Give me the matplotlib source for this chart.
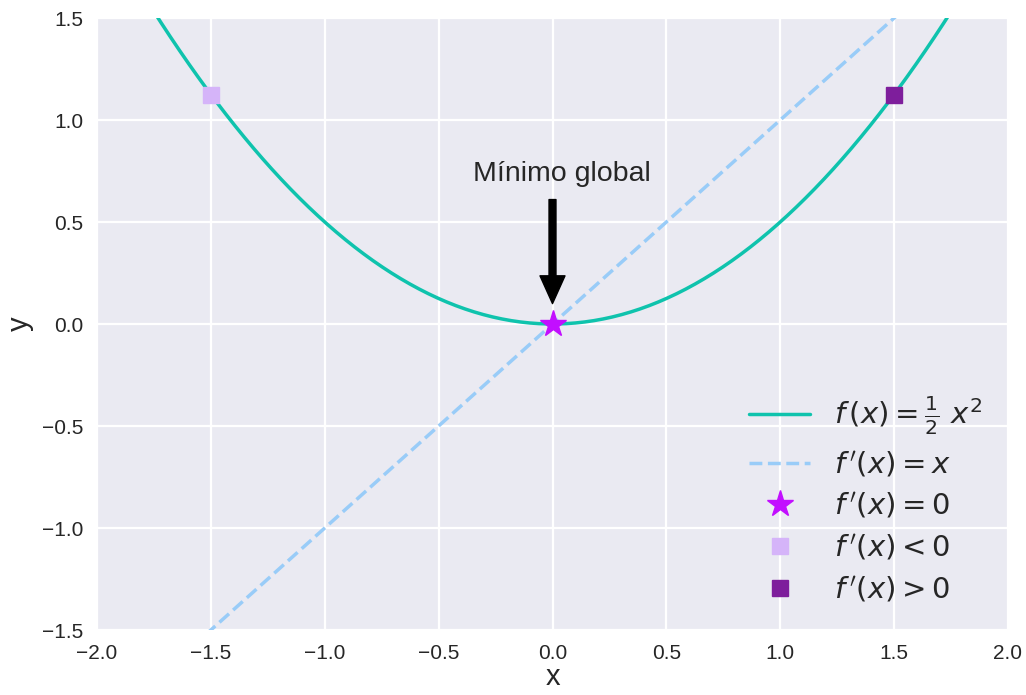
import numpy as np
import matplotlib
matplotlib.use("Agg")
import matplotlib.pyplot as plt

x_range = [-2.0, 2.0]
y_range = [-1.5, 1.5]
n_points = 100
point_zero = (0.0, 0.0)
point_neg = (-1.5, 1.125)
point_pos = (1.5, 1.125)
annot_text = "Mínimo global"
xticks = [-2.0, -1.5, -1.0, -0.5, 0.0, 0.5, 1.0, 1.5, 2.0]
yticks = [-1.5, -1.0, -0.5, 0.0, 0.5, 1.0, 1.5]

plt.style.use("seaborn-v0_8-darkgrid")
plt.rcParams["font.family"] = ["Liberation Sans", "DejaVu Sans"]
plt.rcParams["mathtext.fontset"] = "dejavusans"

fig = plt.figure(figsize=(10.26, 6.95), dpi=100)
ax = fig.add_axes([97/1026, 1-630/695, (1008-97)/1026, (630-18)/695])

x = np.linspace(x_range[0], x_range[1], n_points)
ax.plot(x, 0.5 * x**2, color="#0fc3ad", lw=2.5, label=r"$f\,(x) = \frac{1}{2}\ x^2$")
ax.plot(x, x, color="#99ccf8", lw=2.5, ls="--", label=r"$f\,'(x) = x$")
ax.plot(*point_zero, marker="*", color="#c20fff", ms=20, ls="none", label=r"$f\,'(x) = 0$", zorder=5)
ax.plot(*point_neg, marker="s", color="#d5b4f9", ms=12, ls="none", label=r"$f\,'(x) < 0$", zorder=5)
ax.plot(*point_pos, marker="s", color="#7e1e9c", ms=12, ls="none", label=r"$f\,'(x) > 0$", zorder=5)

ax.text(-0.35, 0.67, annot_text, ha="left", va="bottom", fontsize=20.5, color="#262626")
ax.annotate("", xy=(0, 0.1), xytext=(0, 0.61),
            arrowprops=dict(facecolor="black", edgecolor="black", width=5,
                            headwidth=18, headlength=20, shrink=0.0))

ax.set_xlim(*x_range)
ax.set_ylim(*y_range)
ax.set_xticks(xticks)
ax.set_yticks(yticks)
ax.tick_params(labelsize=15, pad=10)
ax.grid(True, color="white", linewidth=1.6)
ax.set_xlabel("x", fontsize=21, labelpad=0)
ax.set_ylabel("y", fontsize=21, labelpad=6)
leg = ax.legend(loc="lower right", fontsize=21, frameon=False, handlelength=2.1,
                borderaxespad=0.5, labelspacing=0.4, handletextpad=0.8)

fig.savefig("out.png", dpi=100)
